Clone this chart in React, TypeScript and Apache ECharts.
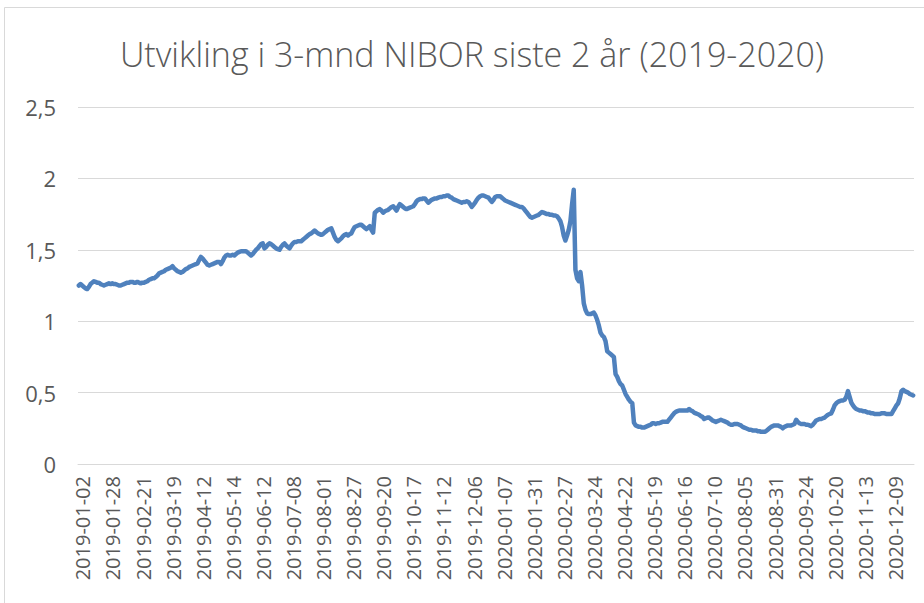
import React, { useEffect, useRef } from "react";
import * as echarts from "echarts";

const TITLE = "Utvikling i 3-mnd NIBOR siste 2 år (2019-2020)";

// Norwegian bank holidays (no NIBOR fixing)
const holidays = [
  "2019-01-01", "2019-04-18", "2019-04-19", "2019-04-22", "2019-05-01", "2019-05-17",
  "2019-05-30", "2019-06-10", "2019-12-24", "2019-12-25", "2019-12-26",
  "2020-01-01", "2020-04-09", "2020-04-10", "2020-04-13", "2020-05-01", "2020-05-21",
  "2020-06-01", "2020-12-24", "2020-12-25", "2020-12-31",
];
// days missing from the source series
const missingDays = ["2019-10-01", "2020-02-17"];
const firstDay = "2019-01-02";
const lastDay = "2020-12-30";

// 3-month NIBOR (%), one value per fixing day
const nibor2019 = [
  1.25, 1.26, 1.25, 1.24, 1.23, 1.225, 1.24, 1.26, 1.27, 1.28,
  1.275, 1.27, 1.27, 1.26, 1.255, 1.25, 1.255, 1.26, 1.265, 1.26,
  1.265, 1.26, 1.26, 1.255, 1.25, 1.25, 1.255, 1.26, 1.265, 1.27,
  1.27, 1.275, 1.275, 1.27, 1.27, 1.275, 1.27, 1.265, 1.27, 1.27,
  1.275, 1.28, 1.29, 1.295, 1.3, 1.3, 1.31, 1.32, 1.335, 1.34,
  1.345, 1.35, 1.36, 1.365, 1.37, 1.375, 1.385, 1.37, 1.36, 1.35,
  1.345, 1.34, 1.345, 1.355, 1.365, 1.37, 1.38, 1.385, 1.39, 1.395,
  1.4, 1.405, 1.43, 1.45, 1.44, 1.425, 1.41, 1.395, 1.39, 1.395,
  1.4, 1.405, 1.41, 1.415, 1.415, 1.4, 1.42, 1.445, 1.46, 1.465,
  1.46, 1.46, 1.465, 1.46, 1.47, 1.48, 1.485, 1.49, 1.49, 1.49,
  1.49, 1.48, 1.47, 1.46, 1.47, 1.485, 1.5, 1.51, 1.525, 1.54,
  1.545, 1.51, 1.52, 1.535, 1.545, 1.54, 1.53, 1.52, 1.51, 1.505,
  1.5, 1.52, 1.535, 1.545, 1.53, 1.52, 1.51, 1.53, 1.545, 1.555,
  1.555, 1.56, 1.56, 1.56, 1.57, 1.58, 1.59, 1.6, 1.61, 1.615,
  1.625, 1.635, 1.625, 1.615, 1.61, 1.605, 1.61, 1.62, 1.63, 1.64,
  1.645, 1.65, 1.62, 1.59, 1.57, 1.56, 1.57, 1.58, 1.595, 1.605,
  1.61, 1.6, 1.61, 1.615, 1.64, 1.66, 1.665, 1.67, 1.675, 1.675,
  1.665, 1.655, 1.645, 1.655, 1.665, 1.64, 1.62, 1.76, 1.77, 1.78,
  1.785, 1.775, 1.76, 1.77, 1.775, 1.78, 1.79, 1.8, 1.805, 1.79,
  1.775, 1.8, 1.82, 1.81, 1.8, 1.79, 1.785, 1.79, 1.795, 1.8,
  1.805, 1.82, 1.84, 1.85, 1.855, 1.855, 1.86, 1.86, 1.845, 1.83,
  1.84, 1.85, 1.855, 1.86, 1.86, 1.865, 1.87, 1.87, 1.875, 1.875,
  1.88, 1.88, 1.87, 1.865, 1.855, 1.85, 1.845, 1.84, 1.835, 1.83,
  1.835, 1.835, 1.84, 1.835, 1.82, 1.8, 1.815, 1.83, 1.85, 1.865,
  1.875, 1.88, 1.88, 1.875, 1.87, 1.865, 1.85, 1.835, 1.85,
];
const nibor2020 = [
  1.87,
  1.875, 1.875, 1.875, 1.865, 1.855, 1.845, 1.84, 1.835, 1.83, 1.825,
  1.82, 1.815, 1.81, 1.805, 1.8, 1.8, 1.79, 1.775, 1.76, 1.745,
  1.73, 1.725, 1.73, 1.735, 1.74, 1.745, 1.755, 1.765, 1.76, 1.755,
  1.75, 1.75, 1.745, 1.745, 1.74, 1.74, 1.735, 1.72, 1.7, 1.66,
  1.6, 1.565, 1.6, 1.64, 1.7, 1.82, 1.92, 1.36, 1.3, 1.28,
  1.345, 1.25, 1.125, 1.08, 1.055, 1.05, 1.05, 1.055, 1.06, 1.04,
  1.01, 0.97, 0.92, 0.9, 0.89, 0.86, 0.79, 0.78, 0.77, 0.76,
  0.75, 0.63, 0.61, 0.58, 0.56, 0.55, 0.52, 0.49, 0.47, 0.45,
  0.435, 0.425, 0.29, 0.27, 0.265, 0.26, 0.26, 0.255, 0.255, 0.26,
  0.265, 0.27, 0.275, 0.285, 0.285, 0.28, 0.285, 0.285, 0.29, 0.295,
  0.295, 0.295, 0.295, 0.31, 0.325, 0.34, 0.355, 0.365, 0.37, 0.375,
  0.375, 0.375, 0.375, 0.375, 0.375, 0.385, 0.375, 0.37, 0.36, 0.355,
  0.35, 0.345, 0.335, 0.33, 0.315, 0.32, 0.325, 0.325, 0.315, 0.305,
  0.3, 0.295, 0.3, 0.305, 0.31, 0.305, 0.3, 0.295, 0.29, 0.28,
  0.275, 0.275, 0.28, 0.28, 0.28, 0.275, 0.27, 0.26, 0.255, 0.25,
  0.245, 0.24, 0.24, 0.235, 0.235, 0.235, 0.23, 0.23, 0.225, 0.225,
  0.225, 0.23, 0.24, 0.25, 0.26, 0.265, 0.27, 0.27, 0.27, 0.265,
  0.26, 0.25, 0.26, 0.265, 0.27, 0.27, 0.27, 0.275, 0.28, 0.31,
  0.295, 0.285, 0.28, 0.28, 0.28, 0.275, 0.275, 0.27, 0.265, 0.275,
  0.29, 0.305, 0.31, 0.315, 0.315, 0.32, 0.325, 0.335, 0.345, 0.35,
  0.355, 0.38, 0.41, 0.425, 0.435, 0.44, 0.445, 0.445, 0.45, 0.47,
  0.51, 0.47, 0.43, 0.41, 0.395, 0.385, 0.38, 0.375, 0.375, 0.37,
  0.37, 0.365, 0.36, 0.36, 0.355, 0.355, 0.35, 0.35, 0.35, 0.35,
  0.355, 0.355, 0.355, 0.35, 0.35, 0.35, 0.35, 0.37, 0.39, 0.41,
  0.425, 0.46, 0.51, 0.52, 0.51, 0.505, 0.5, 0.49, 0.485, 0.48,
];

const yTicks = [0, 0.5, 1, 1.5, 2, 2.5];

function fixingDays(): string[] {
  const skip = new Set([...holidays, ...missingDays]);
  const out: string[] = [];
  const [y0, m0, d0] = firstDay.split("-").map(Number);
  let t = Date.UTC(y0, m0 - 1, d0);
  const [y1, m1, d1] = lastDay.split("-").map(Number);
  const end = Date.UTC(y1, m1 - 1, d1);
  while (t <= end) {
    const d = new Date(t);
    const wd = d.getUTCDay();
    const iso = d.toISOString().slice(0, 10);
    if (wd !== 0 && wd !== 6 && !skip.has(iso)) out.push(iso);
    t += 86400000;
  }
  return out;
}

const TEXT = "#595959";
const GRID = "#d9d9d9";
const LINE = "#4f81bd";
const FONT = "'Open Sans', 'Noto Sans', sans-serif";

export default function App() {
  const ref = useRef<HTMLDivElement>(null);
  useEffect(() => {
    document.body.style.margin = "0";
    if (!ref.current) return;
    const chart = echarts.init(ref.current, undefined, { renderer: "svg" });
    const values = [...nibor2019, ...nibor2020];
    const dates = fixingDays().slice(0, values.length);
    chart.setOption({
      animation: false,
      backgroundColor: "#ffffff",
      graphic: [
        {
          type: "rect",
          shape: { x: 4.5, y: 7.5, width: 1000, height: 700 },
          style: { fill: "none", stroke: GRID, lineWidth: 1 },
          silent: true,
        },
        {
          type: "text",
          x: 472,
          y: 54,
          style: {
            text: TITLE,
            fill: TEXT,
            font: `300 34px ${FONT}`,
            textAlign: "center",
            textVerticalAlign: "middle",
          },
        },
      ],
      grid: { left: 78, right: 10, top: 107, bottom: 139, containLabel: false },
      xAxis: {
        type: "category",
        data: dates,
        boundaryGap: true,
        axisLine: { show: true, lineStyle: { color: GRID, width: 1 } },
        axisTick: { show: false },
        axisLabel: {
          interval: 17,
          rotate: 90,
          margin: 12,
          verticalAlign: "top",
          lineHeight: 8,
          color: TEXT,
          fontFamily: FONT,
          fontSize: 20,
        },
        splitLine: { show: false },
      },
      yAxis: {
        type: "value",
        min: yTicks[0],
        max: yTicks[yTicks.length - 1],
        interval: 0.5,
        axisLine: { show: false },
        axisTick: { show: false },
        axisLabel: {
          margin: 22,
          color: TEXT,
          fontFamily: FONT,
          fontSize: 22,
          formatter: (v: number) => String(v).replace(".", ","),
        },
        splitLine: { lineStyle: { color: GRID, width: 1 } },
      },
      series: [
        {
          type: "line",
          data: values,
          showSymbol: false,
          symbol: "none",
          lineStyle: { color: LINE, width: 4.5, cap: "round", join: "round" },
        },
      ],
    });
    return () => chart.dispose();
  }, []);
  return <div ref={ref} style={{ width: 924, height: 603 }} />;
}
